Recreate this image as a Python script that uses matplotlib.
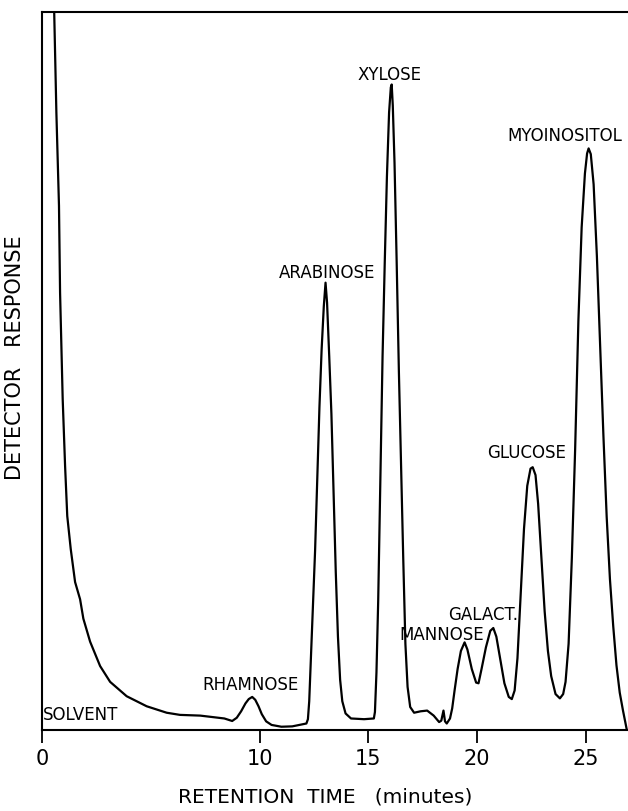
import matplotlib
matplotlib.use("Agg")
import matplotlib.pyplot as plt

# retention time (min) and detector response (arbitrary, frame top = 100)
time_min = [
    # solvent front
    0.50, 0.56, 0.66, 0.78, 0.83, 0.95, 1.06, 1.16, 1.32, 1.52, 1.75, 1.90,
    2.21, 2.67, 3.13, 3.89, 4.81, 5.73, 6.34, 7.27, 8.38, 8.74,
    # rhamnose
    8.95, 9.15, 9.35, 9.50, 9.66, 9.80, 9.95, 10.10, 10.30, 10.55, 11.00,
    11.50, 12.00, 12.15,
    # arabinose
    12.22, 12.28, 12.35, 12.45, 12.55, 12.65, 12.75, 12.85, 12.95, 13.03,
    13.10, 13.20, 13.30, 13.40, 13.50, 13.60, 13.70, 13.80, 13.95, 14.20,
    14.80, 15.25,
    # xylose
    15.30, 15.37, 15.45, 15.55, 15.65, 15.75, 15.85, 15.95, 16.03, 16.07,
    16.12, 16.20, 16.30, 16.40, 16.50, 16.60, 16.70, 16.80, 16.92, 17.10,
    17.40, 17.70, 18.00, 18.25, 18.35, 18.45, 18.52, 18.60, 18.75,
    # mannose, galactose
    18.85, 18.96, 19.10, 19.25, 19.42, 19.55, 19.75, 19.95, 20.06, 20.20,
    20.40, 20.60, 20.74, 20.88, 21.05, 21.25, 21.45, 21.59,
    # glucose
    21.72, 21.85, 22.00, 22.15, 22.30, 22.45, 22.55, 22.68, 22.80, 22.95,
    23.10, 23.25, 23.40, 23.60, 23.80,
    # myoinositol
    23.95, 24.06, 24.20, 24.35, 24.50, 24.65, 24.80, 24.95, 25.05, 25.12,
    25.22, 25.35, 25.50, 25.65, 25.80, 25.95, 26.10, 26.25, 26.40, 26.55,
    26.70, 26.87,
]
response = [
    110.0, 100.0, 86.0, 73.0, 60.9, 46.1, 36.8, 29.8, 25.2, 20.6, 18.2, 15.5,
    12.3, 8.9, 6.7, 4.7, 3.3, 2.4, 2.1, 2.0, 1.6, 1.25,
    1.7, 2.6, 3.7, 4.3, 4.6, 4.2, 3.3, 2.2, 1.2, 0.7, 0.45,
    0.5, 0.8, 0.9,
    1.5, 4.0, 9.5, 17.0, 25.0, 35.0, 45.0, 53.0, 59.0, 62.3,
    59.5, 52.0, 44.0, 33.0, 22.0, 13.0, 7.0, 4.0, 2.3, 1.6,
    1.5, 1.6,
    2.5, 8.0, 18.0, 35.0, 52.0, 65.0, 77.0, 86.0, 89.5, 89.9,
    87.0, 79.0, 65.0, 50.0, 37.0, 24.0, 12.0, 6.0, 3.2, 2.4,
    2.6, 2.7, 2.0, 1.1, 1.3, 2.7, 1.2, 0.9, 1.6,
    3.0, 5.5, 8.5, 11.0, 12.2, 11.2, 8.5, 6.6, 6.5, 8.5,
    11.5, 13.8, 14.2, 13.0, 10.0, 6.5, 4.6, 4.3,
    5.5, 10.0, 19.0, 28.0, 34.0, 36.4, 36.6, 35.5, 31.5, 24.0,
    16.5, 11.0, 7.5, 5.0, 4.4,
    5.0, 6.7, 12.0, 24.0, 39.0, 57.0, 70.0, 77.5, 80.3, 81.0,
    80.2, 76.0, 66.0, 53.5, 41.0, 29.7, 21.0, 14.5, 9.0, 5.2,
    2.7, 0.1,
]

peak_names = ["SOLVENT", "RHAMNOSE", "ARABINOSE", "XYLOSE", "MANNOSE",
              "GALACT.", "GLUCOSE", "MYOINOSITOL"]
label_time = [0.05, 9.56, 13.12, 15.99, 18.38, 20.27, 22.29, 24.02]
label_resp = [2.2, 6.4, 63.8, 91.4, 13.4, 16.2, 38.7, 82.9]

tick_pos = [0, 10, 15, 20, 25]
tick_text = ["0", "10", "15", "20", "25"]

fig = plt.figure(figsize=(6.28, 8.12), dpi=100)
ax = fig.add_axes([0.0669, 0.0998, 0.9331, 0.8842])

ax.plot(time_min, response, color="black", lw=1.6, solid_joinstyle="round")

ax.set_xlim(0, 26.93)
ax.set_ylim(0, 100)

for name, t, r in zip(peak_names, label_time, label_resp):
    ha = "left" if name == "SOLVENT" else "center"
    ax.text(t, r, name, ha=ha, va="center", fontsize=12, color="black")

ax.set_xticks(tick_pos)
ax.set_xticklabels(tick_text, fontsize=15)
ax.set_yticks([])
ax.tick_params(axis="x", direction="out", length=9, width=1.3, pad=4)

for side in ["left", "bottom", "top"]:
    ax.spines[side].set_linewidth(1.5)
ax.spines["right"].set_visible(False)

fig.text(0.024, 0.559, "DETECTOR   RESPONSE", rotation=90, ha="center",
         va="center", fontsize=15)
fig.text(0.518, 0.018, "RETENTION  TIME   (minutes)", ha="center",
         va="center", fontsize=14.5)

plt.savefig("out.png", dpi=100)
